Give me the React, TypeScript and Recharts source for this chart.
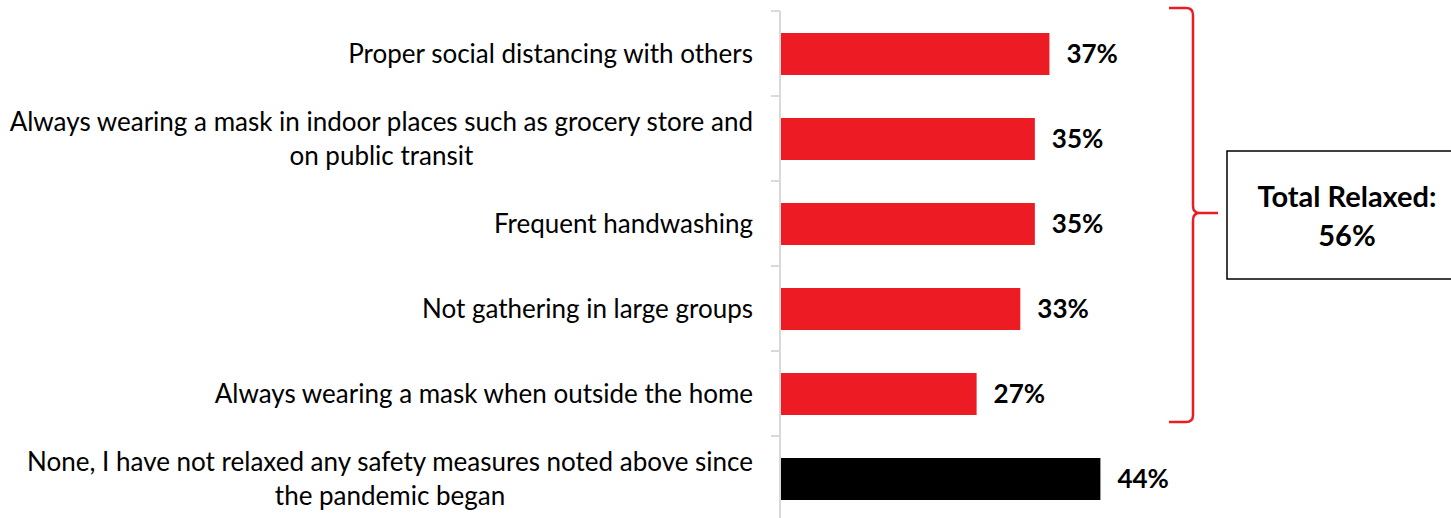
import React, { useLayoutEffect, useRef, useState } from "react";
import { BarChart, Bar, XAxis, YAxis, Cell, LabelList, Customized } from "recharts";

const categories = [
  "Proper social distancing with others",
  "Always wearing a mask in indoor places such as grocery store and\non public transit",
  "Frequent handwashing",
  "Not gathering in large groups",
  "Always wearing a mask when outside the home",
  "None, I have not relaxed any safety measures noted above since\nthe pandemic began",
];
const values = [37, 35, 35, 33, 27, 44];
const barColors = ["#ED1C24", "#ED1C24", "#ED1C24", "#ED1C24", "#ED1C24", "#000000"];
const totalLabel = "Total Relaxed:";
const totalValue = "56%";

const data = categories.map((c, i) => ({ name: c, value: values[i], color: barColors[i] }));

const W = 1451;
const H = 530;
const M = { top: 11, right: 237, bottom: 9, left: 0 };
const AXIS_W = 780;
const BAND = (H - M.top - M.bottom) / categories.length;
const FONT = "Lato, 'Open Sans', sans-serif";
const LABEL_RIGHT = 753;

const CatTick = (props: any) => {
  const { y, payload } = props;
  const lines = String(payload.value).split("\n");
  const lh = 34;
  const startY = y - ((lines.length - 1) * lh) / 2;
  const ref = useRef<SVGTextElement>(null);
  const [maxW, setMaxW] = useState<number | null>(null);
  useLayoutEffect(() => {
    if (lines.length > 1 && ref.current) {
      const spans = Array.from(ref.current.querySelectorAll("tspan")) as SVGTSpanElement[];
      const w = Math.max(...spans.map((s) => s.getComputedTextLength()));
      if (w !== maxW) setMaxW(w);
    }
  });
  const multi = lines.length > 1 && maxW !== null;
  const tx = multi ? LABEL_RIGHT - (maxW as number) / 2 : LABEL_RIGHT;
  return (
    <g>
      <line x1={771} x2={780} y1={y - BAND / 2} y2={y - BAND / 2} stroke="#d9d9d9" strokeWidth={2} />
      <line x1={771} x2={780} y1={y + BAND / 2} y2={y + BAND / 2} stroke="#d9d9d9" strokeWidth={2} />
      <text ref={ref} textAnchor={multi ? "middle" : "end"} fontFamily={FONT} fontSize={26} fill="#000">
        {lines.map((l, i) => (
          <tspan key={i} x={tx} y={startY + i * lh} dy="0.36em">
            {l}
          </tspan>
        ))}
      </text>
    </g>
  );
};

const ValueLabel = (props: any) => {
  const { x, y, width, height, value } = props;
  return (
    <text
      x={x + width + 17}
      y={y + height / 2}
      dy="0.36em"
      fontFamily={FONT}
      fontWeight="bold"
      fontSize={26}
      fill="#000"
    >
      {value}%
    </text>
  );
};

const Annotation = () => {
  const top = M.top - 3;
  const bottom = M.top + BAND * 5 - 14;
  const mid = (top + bottom) / 2 - 2;
  const xv = 1193;
  const path = `M1169 ${top} L1186 ${top} Q${xv} ${top} ${xv} ${top + 7} L${xv} ${mid - 7} Q${xv} ${mid} ${xv + 7} ${mid} L1218 ${mid} L${xv + 7} ${mid} Q${xv} ${mid} ${xv} ${mid + 7} L${xv} ${bottom - 7} Q${xv} ${bottom} 1186 ${bottom} L1169 ${bottom}`;
  return (
    <g>
      <path d={path} fill="none" stroke="#ED1C24" strokeWidth={2.5} />
      <rect x={1227} y={151} width={260} height={128} fill="#fff" stroke="#000" strokeWidth={1.5} />
      <text x={1347} y={207} textAnchor="middle" fontFamily={FONT} fontWeight="bold" fontSize={29} fill="#000">
        {totalLabel}
      </text>
      <text x={1347} y={246} textAnchor="middle" fontFamily={FONT} fontWeight="bold" fontSize={29} fill="#000">
        {totalValue}
      </text>
    </g>
  );
};

export default function App() {
  return (
    <div style={{ position: "absolute", left: 0, top: 0, width: W, height: 518, overflow: "hidden", background: "#fff" }}>
      <BarChart width={W} height={H} data={data} layout="vertical" margin={M} barCategoryGap={43}>
        <XAxis type="number" domain={[0, 59.6]} hide />
        <YAxis
          type="category"
          dataKey="name"
          width={AXIS_W}
          axisLine={{ stroke: "#d9d9d9", strokeWidth: 2 }}
          tickLine={false}
          tick={<CatTick />}
          interval={0}
        />
        <Bar dataKey="value" isAnimationActive={false} barSize={42}>
          {data.map((d, i) => (
            <Cell key={i} fill={d.color} />
          ))}
          <LabelList dataKey="value" content={<ValueLabel />} />
        </Bar>
        <Customized component={<Annotation />} />
      </BarChart>
    </div>
  );
}
